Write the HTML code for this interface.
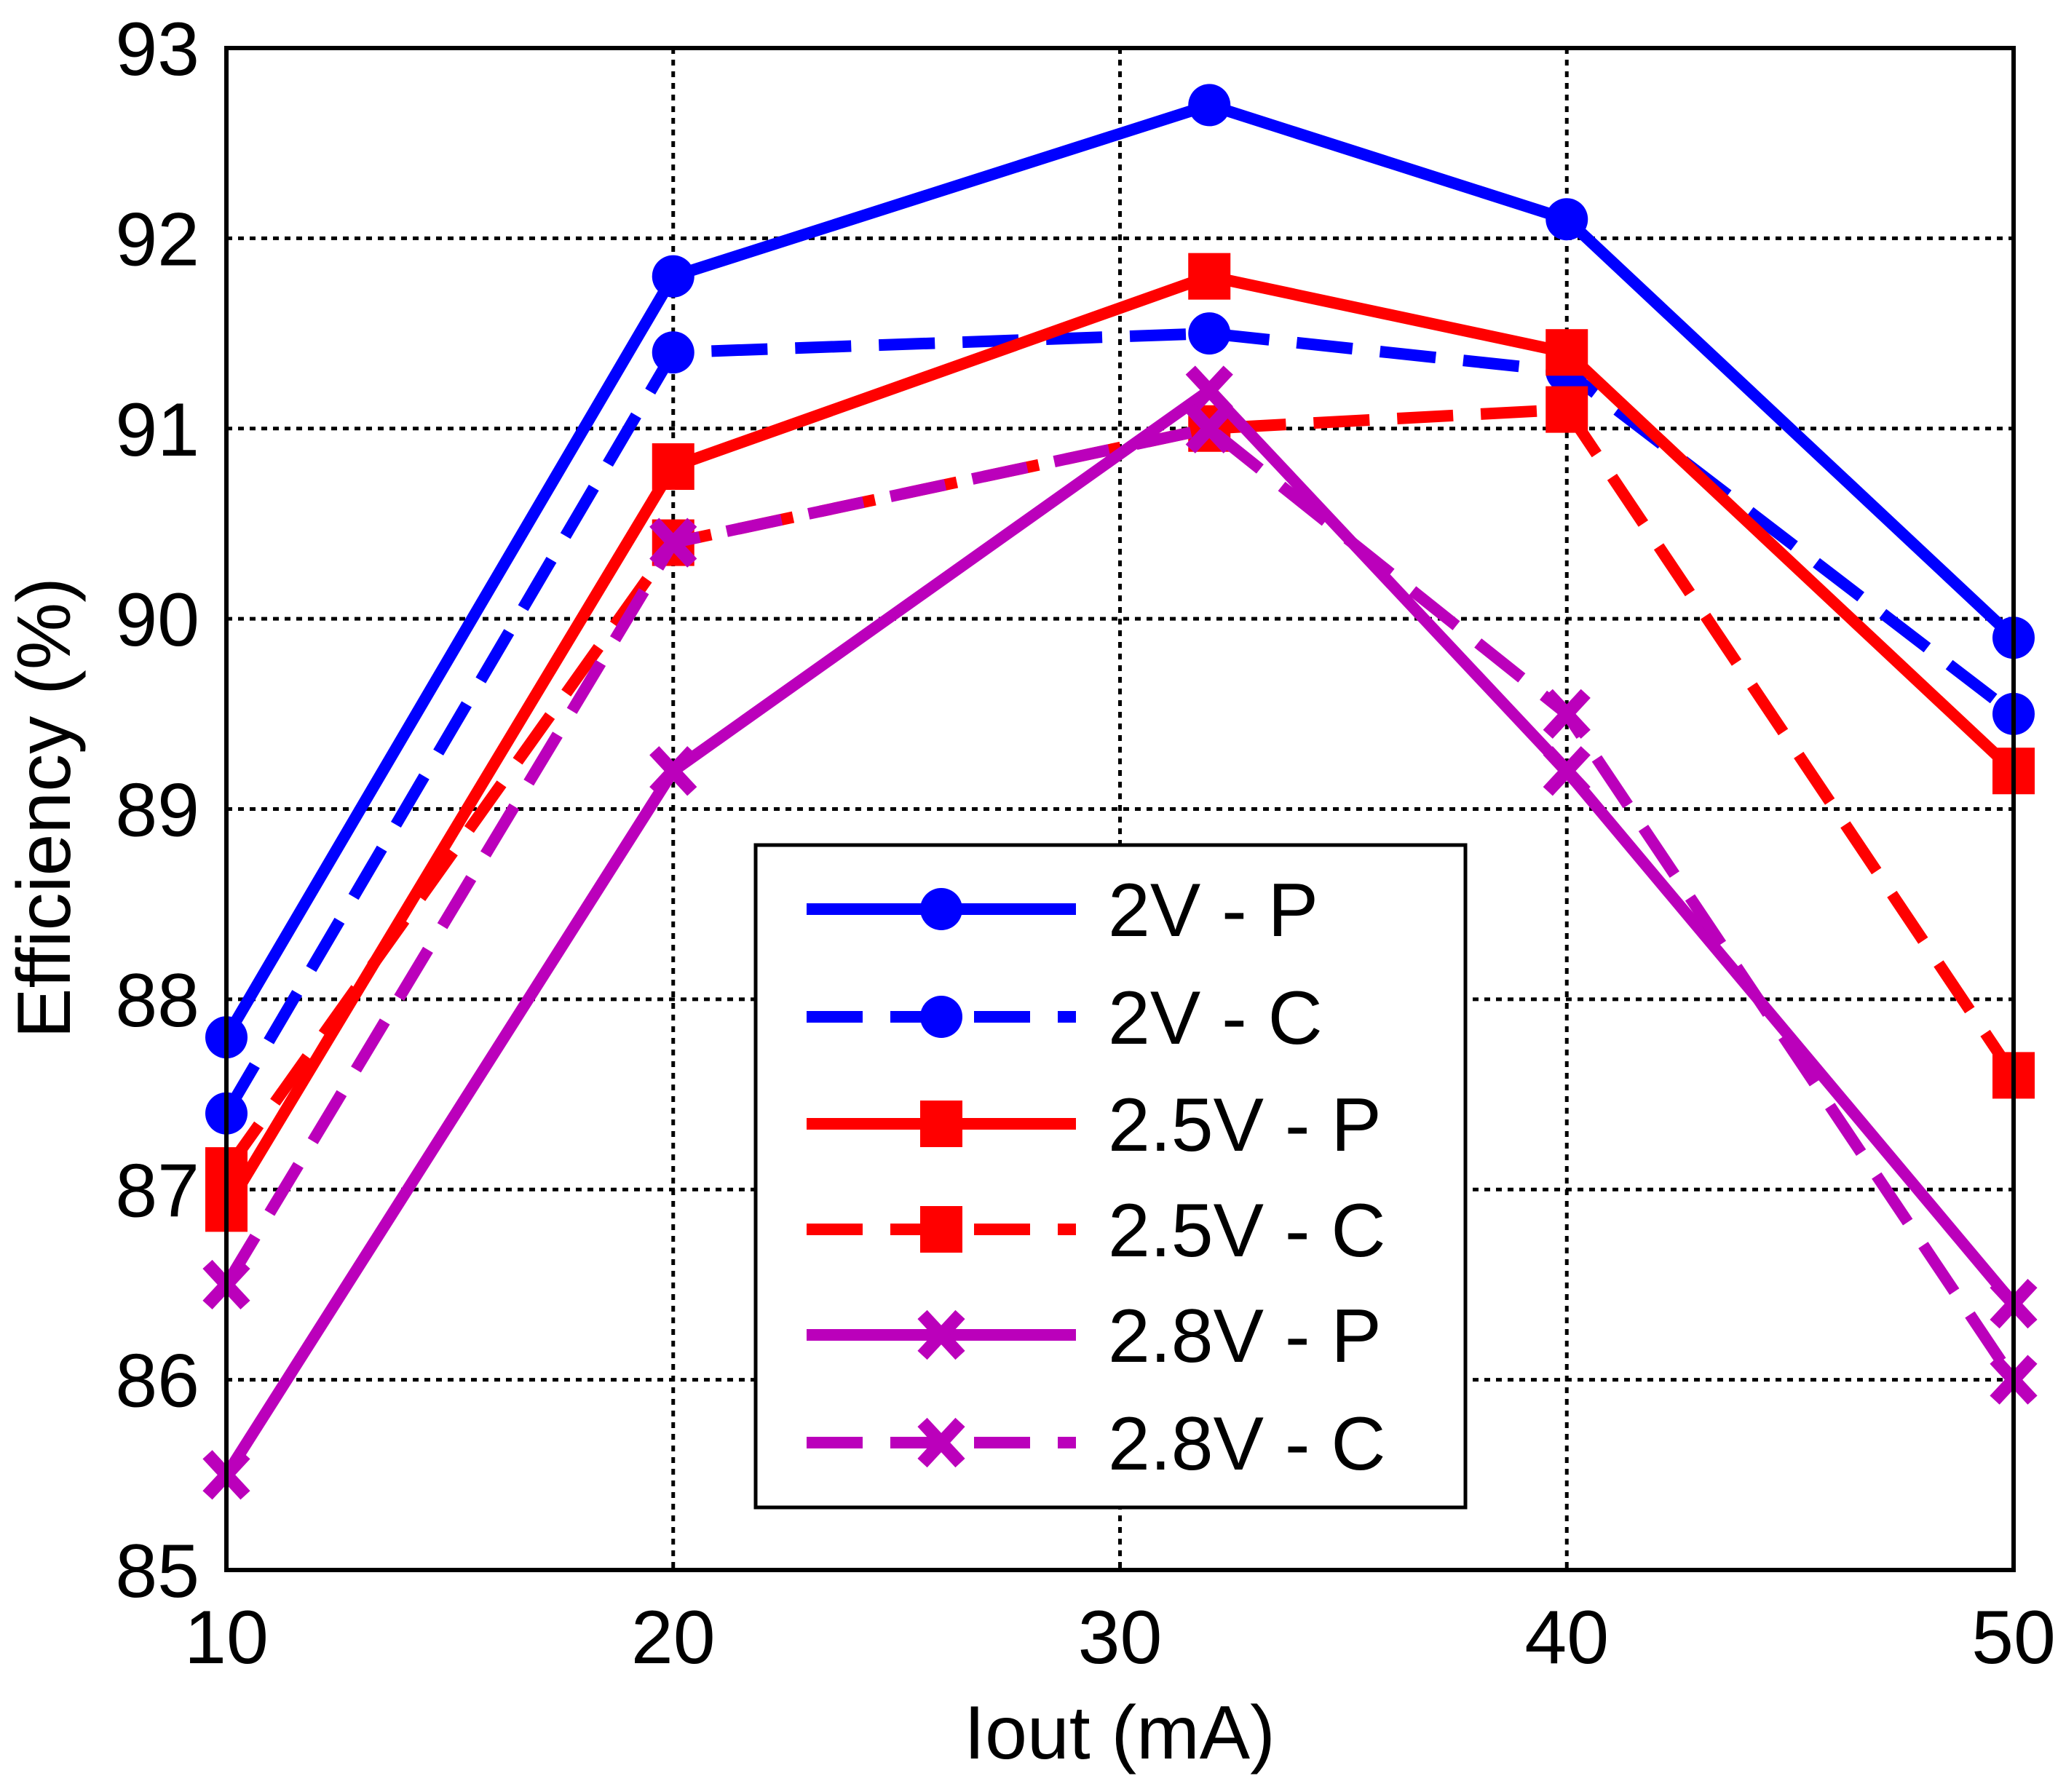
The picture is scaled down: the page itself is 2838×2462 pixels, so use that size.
<!DOCTYPE html>
<html><head><meta charset="utf-8"><style>
html,body{margin:0;padding:0;background:#fff}
svg{display:block}
text{font-family:"Liberation Sans",Arial,sans-serif;fill:#000}
</style></head><body>
<svg id="chart" width="2838" height="2462" viewBox="0 0 2838 2462" xmlns="http://www.w3.org/2000/svg">
<g id="grid"></g>
<g id="series"></g>
<rect x="311" y="66" width="2455" height="2091" fill="none" stroke="#000" stroke-width="6"/>
<g id="ticks"></g>
<text x="1538" y="2416" font-size="104" text-anchor="middle">Iout (mA)</text>
<text transform="translate(96,1110) rotate(-90)" font-size="104" text-anchor="middle">Efficiency (%)</text>
<g id="legend"></g>
</svg>
<script>
const xValues = [10, 20, 32, 40, 50];
const xTicks = [10, 20, 30, 40, 50];
const yTicks = [85, 86, 87, 88, 89, 90, 91, 92, 93];
const seriesNames = ["2V - P", "2V - C", "2.5V - P", "2.5V - C", "2.8V - P", "2.8V - C"];
const s2vP = [87.8, 91.8, 92.7, 92.1, 89.9];
const s2vC = [87.4, 91.4, 91.5, 91.3, 89.5];
const s25vP = [86.9, 90.8, 91.8, 91.4, 89.2];
const s25vC = [87.1, 90.4, 91.0, 91.1, 87.6];
const s28vP = [85.5, 89.2, 91.2, 89.2, 86.4];
const s28vC = [86.5, 90.4, 91.0, 89.5, 86.0];

const L=311,R=2766,T=66,B=2157;
const x = v => L + (v-10)/40*(R-L);
const y = v => B - (v-85)/8*(B-T);
const NS="http://www.w3.org/2000/svg";
function mk(tag, attrs, parent){const e=document.createElementNS(NS,tag);for(const k in attrs)e.setAttribute(k,attrs[k]);parent.appendChild(e);return e;}

const styles=[
 {c:"#0000ff",dash:null,m:"circle"},
 {c:"#0000ff",dash:"77 38",m:"circle"},
 {c:"#ff0000",dash:null,m:"square"},
 {c:"#ff0000",dash:"77 38",m:"square"},
 {c:"#bb00bb",dash:null,m:"x"},
 {c:"#bb00bb",dash:"77 38",m:"x"}];
const data=[s2vP,s2vC,s25vP,s25vC,s28vP,s28vC];

const grid=document.getElementById('grid');
xTicks.forEach(t=>{
 const l=mk('line',{x1:x(t),x2:x(t),y1:T,y2:B,stroke:"#000","stroke-width":5,"stroke-dasharray":"8 8"},grid);
 
 
});
yTicks.forEach(t=>{
 const l=mk('line',{x1:L,x2:R,y1:y(t),y2:y(t),stroke:"#000","stroke-width":5,"stroke-dasharray":"8 8"},grid);
 
 
});
const ticks=document.getElementById('ticks');
xTicks.forEach(t=>{
 const e=mk('text',{x:x(t),y:2285,"font-size":104,"text-anchor":"middle"},ticks);e.textContent=t;
 
 
});
yTicks.forEach(t=>{
 const e=mk('text',{x:274,y:y(t)+37,"font-size":104,"text-anchor":"end"},ticks);e.textContent=t;
 
 
});

function marker(type,cx,cy,c,parent){
 let e;
 if(type==="circle") e=mk('circle',{cx:cx,cy:cy,r:29,fill:c},parent);
 else if(type==="square") e=mk('rect',{x:cx-29,y:cy-32,width:58,height:64,fill:c},parent);
 else e=mk('path',{d:`M${cx-26} ${cy-28}L${cx+26} ${cy+28}M${cx-26} ${cy+28}L${cx+26} ${cy-28}`,stroke:c,"stroke-width":18,fill:"none"},parent);
 return e;
}
const sg=document.getElementById('series');
data.forEach((vals,i)=>{
 const st=styles[i];
 const g=mk('g',{},sg);
 
 
 const pts=vals.map((v,j)=>x(xValues[j])+","+y(v)).join(" ");
 const pl=mk('polyline',{points:pts,fill:"none",stroke:st.c,"stroke-width":16,"stroke-linejoin":"round"},g);
 if(st.dash) pl.setAttribute('stroke-dasharray',st.dash);
 
 
 vals.forEach((v,j)=>{
  const m=marker(st.m,x(xValues[j]),y(v),st.c,g);
  
  
 });
});

const lg=document.getElementById('legend');
const box=mk('rect',{x:1038,y:1161,width:975,height:910,fill:"#fff",stroke:"#000","stroke-width":5},lg);


const rows=[1249,1397,1544,1689,1834,1982];
seriesNames.forEach((n,i)=>{
 const st=styles[i];
 const g=mk('g',{},lg);
 
 
 const ln=mk('line',{x1:1108,x2:1478,y1:rows[i],y2:rows[i],stroke:st.c,"stroke-width":16},g);
 if(st.dash) ln.setAttribute('stroke-dasharray',st.dash);
 
 
 const m=marker(st.m,1293,rows[i],st.c,g);
 
 
 const t=mk('text',{x:1522,y:rows[i]+37,"font-size":104},g);t.textContent=n;
 
 
});
</script>
</body></html>
